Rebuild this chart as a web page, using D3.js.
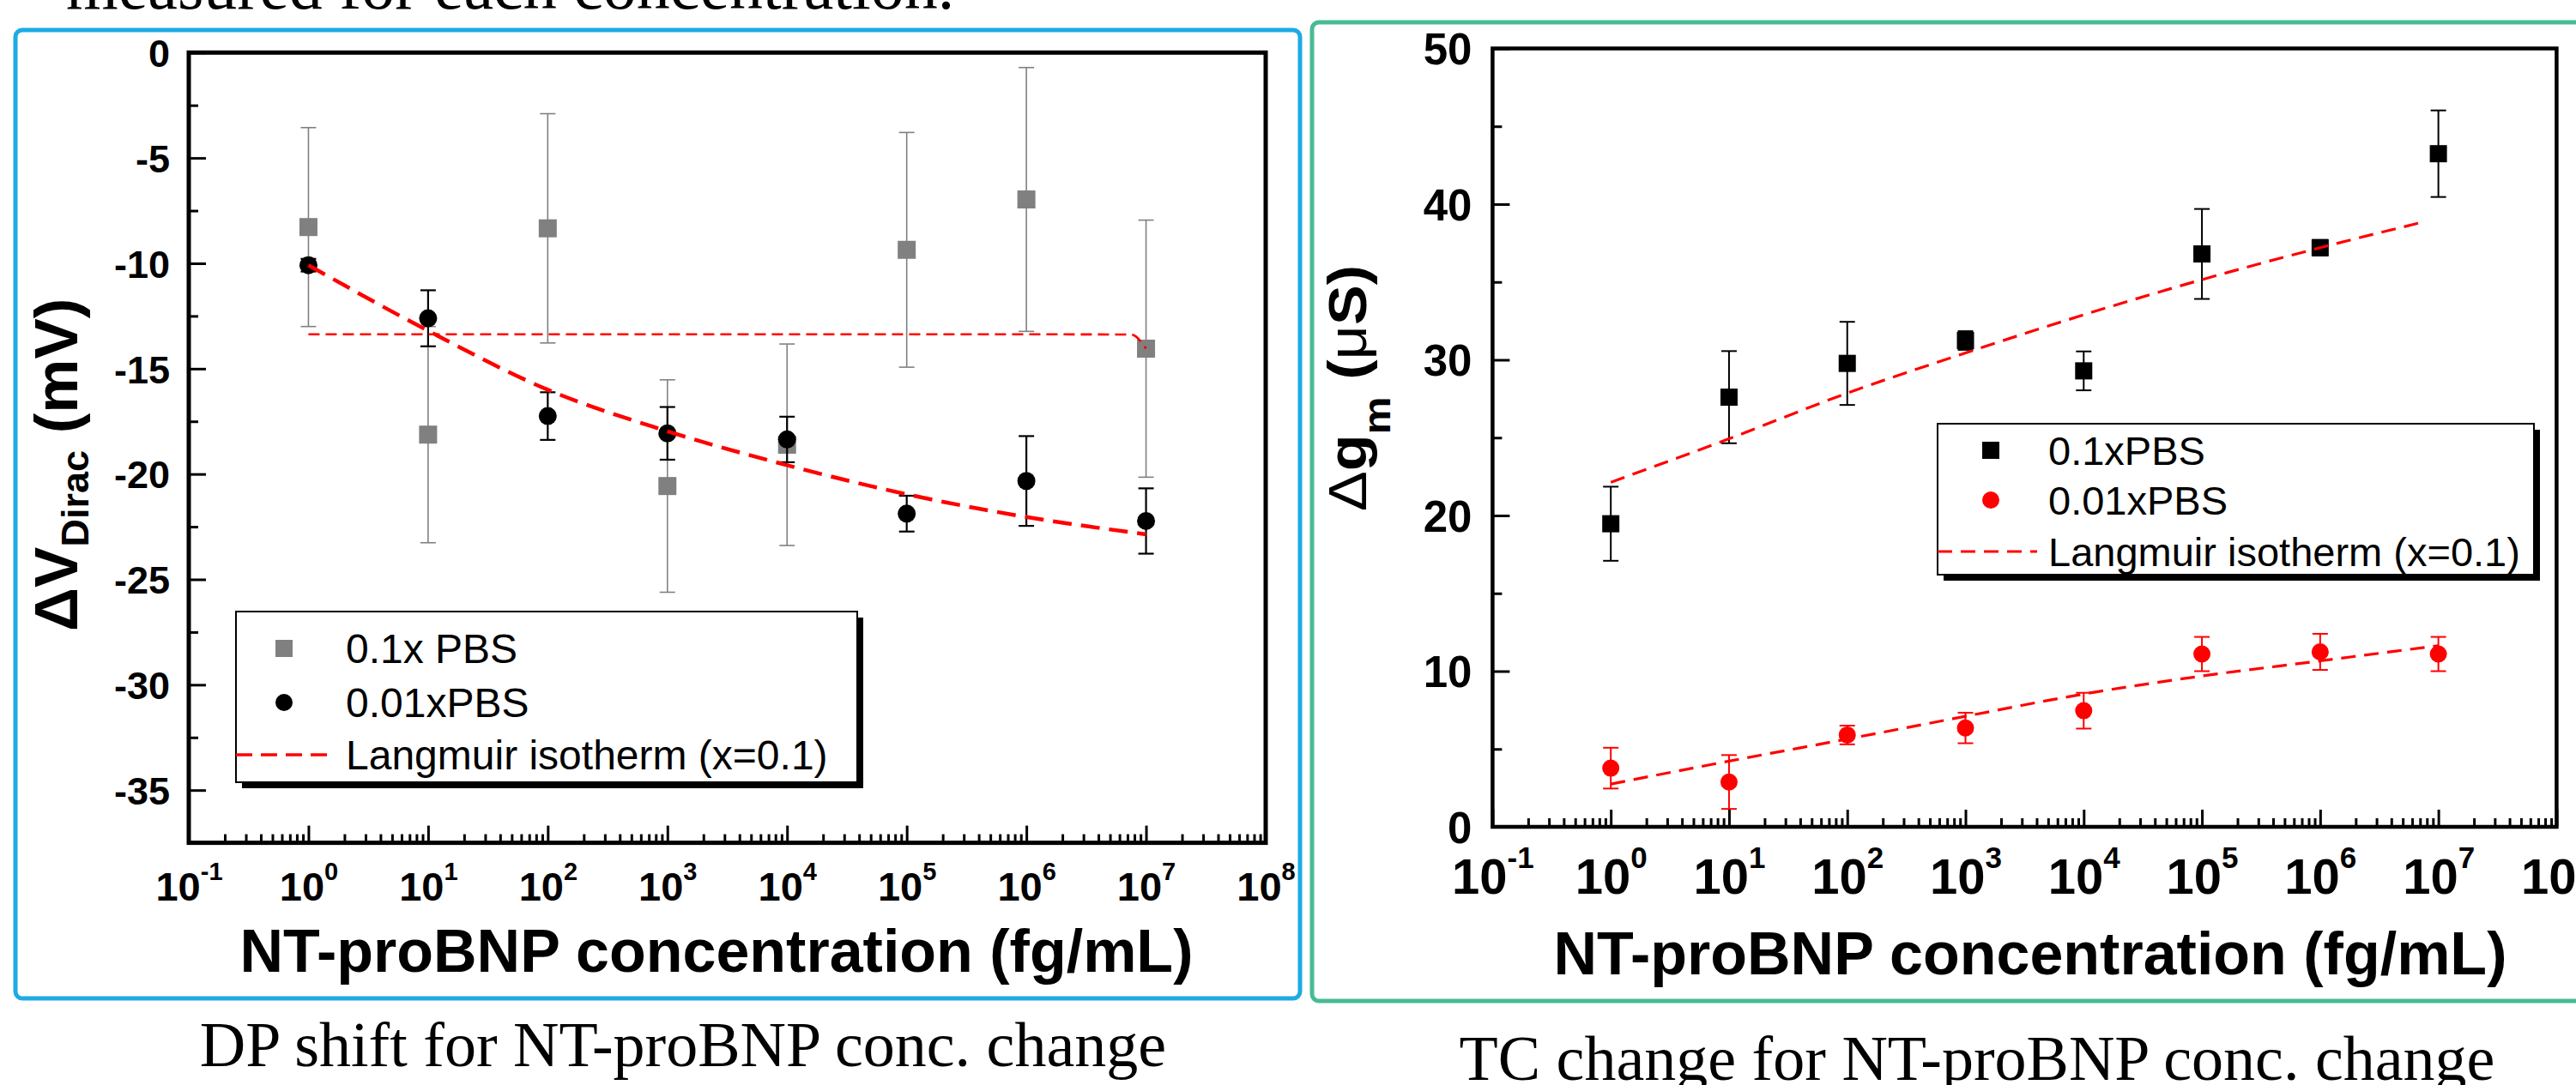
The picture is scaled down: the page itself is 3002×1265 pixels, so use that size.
<!DOCTYPE html>
<html>
<head>
<meta charset="utf-8">
<script src="https://cdnjs.cloudflare.com/ajax/libs/d3/7.8.5/d3.min.js"></script>
<style>
body { margin: 0; background: #fff; }
svg { display: block; }
</style>
</head>
<body>
<svg width="3002" height="1265"></svg>
<script>
var conc = [1, 10, 100, 1e3, 1e4, 1e5, 1e6, 1e7];
var decades = [-1, 0, 1, 2, 3, 4, 5, 6, 7, 8];

// left: Dirac point shift
var dvTicks = [0, -5, -10, -15, -20, -25, -30, -35];
var dvPbs01 = [-8.28, -18.13, -8.34, -20.57, -18.61, -9.36, -6.97, -14.05];
var dvPbs01Err = [4.72, 5.13, 5.44, 5.04, 4.78, 5.57, 6.26, 6.1];
var dvPbs001 = [-10.09, -12.61, -17.25, -18.07, -18.36, -21.88, -20.33, -22.23];
var dvPbs001Err = [0.3, 1.33, 1.13, 1.25, 1.08, 0.85, 2.13, 1.55];
var dvFit = [-10.09, -13.2, -16.0, -17.97, -19.58, -20.96, -22.04, -22.86];
var dvFlatX = [1, 10, 100, 1e3, 1e4, 1e5, 1e6, 7.5e6, 1e7];
var dvFlat = [-13.37, -13.37, -13.37, -13.37, -13.37, -13.37, -13.37, -13.38, -14.05];

// right: transconductance change
var gmTicks = [0, 10, 20, 30, 40, 50];
var gmPbs01 = [19.47, 27.6, 29.77, 31.24, 29.29, 36.8, 37.2, 43.24];
var gmPbs01Err = [2.38, 2.96, 2.67, 0.6, 1.25, 2.89, 0.5, 2.78];
var gmPbs001 = [3.77, 2.88, 5.9, 6.35, 7.46, 11.1, 11.24, 11.1];
var gmPbs001Err = [1.31, 1.73, 0.6, 0.98, 1.15, 1.1, 1.16, 1.1];
var gmFit01X = [1, 10, 100, 1e3, 1e4, 1e5, 1e6, 7.8e6];
var gmFit01 = [22.13, 24.93, 27.86, 30.44, 32.89, 35.15, 37.2, 38.89];
var gmFit001 = [2.75, 4.22, 5.64, 7.1, 8.53, 9.69, 10.66, 11.64];

var sans = "'Liberation Sans', Arial, sans-serif",
    serif = "'Liberation Serif', 'Times New Roman', serif";

var svg = d3.select("svg");

var minor = [];
decades.slice(0, -1).forEach(function(e) {
  for (var k = 2; k < 10; k++) minor.push(k * Math.pow(10, e));
});

function drawPanel(p) {
  var x = d3.scaleLog().domain([0.1, 1e8]).range([p.left, p.right]),
      y = d3.scaleLinear().domain(p.yDomain).range([p.bottom, p.top]);
  var g = svg.append("g");

  g.append("g")
      .attr("transform", "translate(0," + p.bottom + ")")
      .call(d3.axisBottom(x).tickValues(minor).tickSize(-10).tickFormat(""))
      .call(function(a) { a.select(".domain").remove(); })
      .selectAll("line").attr("stroke-width", 3);

  var xa = g.append("g")
      .attr("transform", "translate(0," + p.bottom + ")")
      .call(d3.axisBottom(x).tickValues(decades.map(function(e) { return Math.pow(10, e); })).tickSize(-20).tickFormat(""));
  xa.select(".domain").remove();
  xa.selectAll("line").attr("stroke-width", 3);
  xa.selectAll(".tick text").each(function(d) {
    var t = d3.select(this).text(null)
        .attr("y", p.xLabelY - p.bottom).attr("dy", null)
        .attr("fill", "#000").attr("font-family", sans).attr("font-weight", "bold")
        .attr("font-size", p.xLabelSize).attr("text-anchor", "middle");
    t.append("tspan").text("10");
    t.append("tspan").attr("font-size", p.supSize).attr("dy", -p.supShift)
        .text(Math.round(Math.log10(d)));
  });

  g.append("g")
      .attr("transform", "translate(" + p.left + ",0)")
      .call(d3.axisLeft(y).tickValues(p.yMinor).tickSize(-11).tickFormat(""))
      .call(function(a) { a.select(".domain").remove(); })
      .selectAll("line").attr("stroke-width", 3);

  var ya = g.append("g")
      .attr("transform", "translate(" + p.left + ",0)")
      .call(d3.axisLeft(y).tickValues(p.yTicks).tickSize(-20).tickPadding(p.yPad)
        .tickFormat(function(d) { return String(d); }));
  ya.select(".domain").remove();
  ya.selectAll("line").attr("stroke-width", 3);
  ya.selectAll("text")
      .attr("fill", "#000").attr("font-family", sans).attr("font-weight", "bold")
      .attr("font-size", p.yLabelSize).attr("dy", "0.36em");

  g.append("rect")
      .attr("x", p.left).attr("y", p.top)
      .attr("width", p.right - p.left).attr("height", p.bottom - p.top)
      .attr("fill", "none").attr("stroke", "#000").attr("stroke-width", p.frame);

  p.series.forEach(function(s) {
    var pts = d3.zip(conc, s.y, s.err);
    var eb = g.append("g").attr("stroke", s.color).attr("stroke-width", s.errWidth);
    pts.forEach(function(d) {
      var cx = x(d[0]), y0 = y(d[1] - d[2]), y1 = y(d[1] + d[2]);
      eb.append("line").attr("x1", cx).attr("x2", cx).attr("y1", y0).attr("y2", y1);
      eb.append("line").attr("x1", cx - 9).attr("x2", cx + 9).attr("y1", y0).attr("y2", y0);
      eb.append("line").attr("x1", cx - 9).attr("x2", cx + 9).attr("y1", y1).attr("y2", y1);
    });
    if (s.shape === "square") {
      g.selectAll(null).data(pts).enter().append("rect")
          .attr("x", function(d) { return x(d[0]) - s.size / 2; })
          .attr("y", function(d) { return y(d[1]) - s.size / 2; })
          .attr("width", s.size).attr("height", s.size)
          .attr("fill", s.color);
    } else {
      g.selectAll(null).data(pts).enter().append("circle")
          .attr("cx", function(d) { return x(d[0]); })
          .attr("cy", function(d) { return y(d[1]); })
          .attr("r", s.size / 2)
          .attr("fill", s.color);
    }
  });

  var line = d3.line()
      .x(function(d) { return x(d[0]); })
      .y(function(d) { return y(d[1]); })
      .curve(d3.curveMonotoneX);

  p.fits.forEach(function(f) {
    g.append("path")
        .datum(d3.zip(f.x, f.y))
        .attr("d", line)
        .attr("fill", "none")
        .attr("stroke", "#ff0000")
        .attr("stroke-width", f.width)
        .attr("stroke-dasharray", f.dash);
  });

  // legend
  var L = p.legend;
  g.append("rect").attr("x", L.x + 7).attr("y", L.y + 7).attr("width", L.w).attr("height", L.h).attr("fill", "#000");
  g.append("rect").attr("x", L.x).attr("y", L.y).attr("width", L.w).attr("height", L.h)
      .attr("fill", "#fff").attr("stroke", "#000").attr("stroke-width", 2);
  L.rows.forEach(function(r, i) {
    var cy = L.rowY[i];
    if (r.shape === "square") {
      g.append("rect").attr("x", L.symX - 10).attr("y", cy - 10).attr("width", 20).attr("height", 20).attr("fill", r.color);
    } else if (r.shape === "circle") {
      g.append("circle").attr("cx", L.symX).attr("cy", cy).attr("r", 10).attr("fill", r.color);
    } else {
      g.append("line").attr("x1", L.x).attr("x2", L.lineEnd).attr("y1", cy).attr("y2", cy)
          .attr("stroke", "#ff0000").attr("stroke-width", L.lineWidth).attr("stroke-dasharray", L.lineDash);
    }
    g.append("text").attr("x", L.textX).attr("y", cy + L.textDy)
        .attr("font-family", sans).attr("font-size", L.size).text(r.label);
  });

  g.append("text")
      .attr("x", p.xTitleX).attr("y", p.xTitleY)
      .attr("text-anchor", "middle")
      .attr("font-family", sans).attr("font-weight", "bold").attr("font-size", 70)
      .text("NT-proBNP concentration (fg/mL)");
}

// cut-off line of text above the figure
svg.append("text")
    .attr("x", 77).attr("y", 10)
    .attr("font-family", serif).attr("font-size", 78)
    .text("measured for each concentration.");

// panel borders
svg.append("rect")
    .attr("x", 18).attr("y", 35).attr("width", 1497).attr("height", 1129).attr("rx", 8)
    .attr("fill", "none").attr("stroke", "#1dabe3").attr("stroke-width", 5);
svg.append("rect")
    .attr("x", 1529).attr("y", 26).attr("width", 1600).attr("height", 1141).attr("rx", 8)
    .attr("fill", "none").attr("stroke", "#48bb96").attr("stroke-width", 5);

drawPanel({
  left: 220, right: 1475, top: 61.3, bottom: 982.6, frame: 5,
  yDomain: [-37.5, 0], yTicks: dvTicks,
  yMinor: [-2.5, -7.5, -12.5, -17.5, -22.5, -27.5, -32.5, -37.5],
  yPad: 22, yLabelSize: 45,
  xLabelY: 1050, xLabelSize: 47, supSize: 29, supShift: 24,
  xTitleX: 835, xTitleY: 1133,
  series: [
    {y: dvPbs01, err: dvPbs01Err, color: "#808080", shape: "square", size: 21, errWidth: 1.6},
    {y: dvPbs001, err: dvPbs001Err, color: "#000", shape: "circle", size: 21, errWidth: 2.2}
  ],
  fits: [
    {x: conc, y: dvFit, width: 4.5, dash: "22,11"},
    {x: dvFlatX, y: dvFlat, width: 2.6, dash: "13,7"}
  ],
  legend: {
    x: 275, y: 713, w: 724, h: 199, symX: 331, textX: 403, textDy: 17, size: 48,
    lineEnd: 391, lineWidth: 3.5, lineDash: "19,10",
    rowY: [756, 819, 880],
    rows: [
      {shape: "square", color: "#808080", label: "0.1x PBS"},
      {shape: "circle", color: "#000", label: "0.01xPBS"},
      {shape: "line", label: "Langmuir isotherm (x=0.1)"}
    ]
  }
});

drawPanel({
  left: 1739.4, right: 2979.4, top: 56.5, bottom: 964, frame: 4.5,
  yDomain: [0, 50], yTicks: gmTicks,
  yMinor: [5, 15, 25, 35, 45],
  yPad: 24, yLabelSize: 51,
  xLabelY: 1042, xLabelSize: 58, supSize: 35, supShift: 30,
  xTitleX: 2366, xTitleY: 1136,
  series: [
    {y: gmPbs01, err: gmPbs01Err, color: "#000", shape: "square", size: 20, errWidth: 2},
    {y: gmPbs001, err: gmPbs001Err, color: "#ff0000", shape: "circle", size: 20, errWidth: 2}
  ],
  fits: [
    {x: gmFit01X, y: gmFit01, width: 3.2, dash: "17,10"},
    {x: conc, y: gmFit001, width: 3.2, dash: "17,10"}
  ],
  legend: {
    x: 2258, y: 494, w: 695, h: 176, symX: 2320, textX: 2387, textDy: 17, size: 47,
    lineEnd: 2374, lineWidth: 3.2, lineDash: "17,10",
    rowY: [525, 583, 643],
    rows: [
      {shape: "square", color: "#000", label: "0.1xPBS"},
      {shape: "circle", color: "#ff0000", label: "0.01xPBS"},
      {shape: "line", label: "Langmuir isotherm (x=0.1)"}
    ]
  }
});

// rotated y titles
var yt1 = svg.append("text")
    .attr("transform", "translate(90,736) rotate(-90)")
    .attr("font-family", sans).attr("font-weight", "bold").attr("font-size", 71);
yt1.append("tspan").text("ΔV");
yt1.append("tspan").attr("font-size", 45).attr("dy", 13).text("Dirac");
yt1.append("tspan").attr("dy", -13).text(" (mV)");

var yt2 = svg.append("text")
    .attr("transform", "translate(1592,596) rotate(-90) scale(1.13,1)")
    .attr("font-family", sans).attr("font-weight", "bold").attr("font-size", 62);
yt2.append("tspan").attr("font-weight", "normal").text("Δ");
yt2.append("tspan").text("g");
yt2.append("tspan").attr("font-size", 44).attr("dy", 28).text("m");
yt2.append("tspan").attr("dy", -28).text(" (");
yt2.append("tspan").attr("font-weight", "normal").text("μ");
yt2.append("tspan").text("S)");

// captions
svg.append("text")
    .attr("x", 796).attr("y", 1243).attr("text-anchor", "middle")
    .attr("font-family", serif).attr("font-size", 74)
    .text("DP shift for NT-proBNP conc. change");
svg.append("text")
    .attr("x", 2304).attr("y", 1259).attr("text-anchor", "middle")
    .attr("font-family", serif).attr("font-size", 74)
    .text("TC change for NT-proBNP conc. change");
</script>
</body>
</html>
